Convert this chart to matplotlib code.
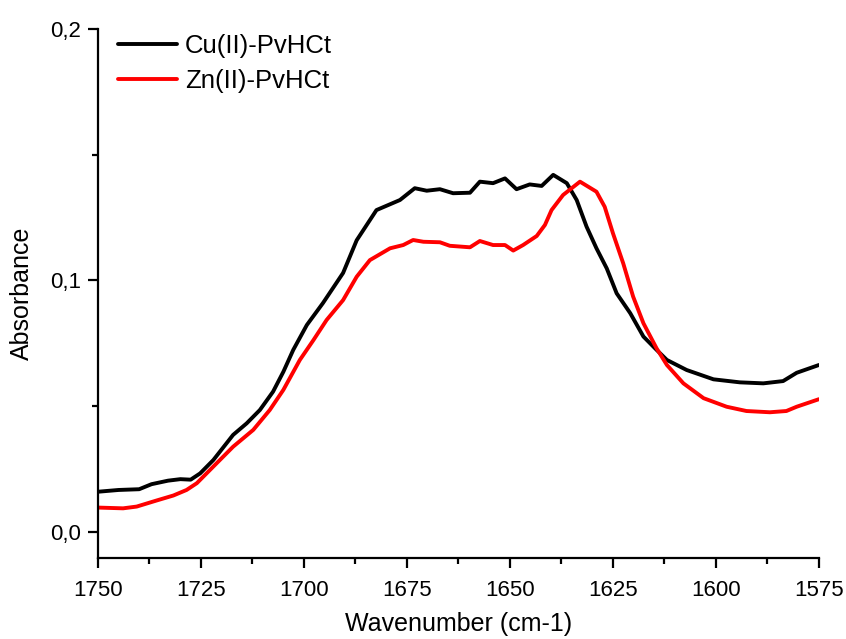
import numpy as np
import matplotlib
matplotlib.use('Agg')
import matplotlib.pyplot as plt
from matplotlib.ticker import MultipleLocator, FuncFormatter

plt.rcParams['font.family'] = ['Liberation Sans', 'DejaVu Sans']

# Cu(II)-PvHCt spectrum
cu_wn = [1750.0, 1745.0, 1740.0, 1737.0, 1733.0, 1730.0, 1727.5, 1725.2, 1722.0,
         1717.2, 1713.9, 1710.7, 1707.5, 1705.0, 1702.6, 1699.3, 1695.4, 1690.5,
         1687.2, 1682.4, 1676.7, 1673.1, 1670.2, 1667.0, 1663.8, 1659.7, 1657.3,
         1654.1, 1651.2, 1648.4, 1645.2, 1642.3, 1639.5, 1636.2, 1633.8, 1631.4,
         1629.0, 1626.5, 1624.1, 1620.8, 1617.6, 1614.4, 1611.9, 1607.1, 1600.6,
         1594.2, 1588.5, 1583.7, 1580.4, 1575.0]
cu_abs = [0.0160, 0.0167, 0.0170, 0.0190, 0.0204, 0.0210, 0.0208, 0.0233, 0.0286,
          0.0386, 0.0432, 0.0485, 0.0558, 0.0637, 0.0724, 0.0823, 0.0910, 0.1030,
          0.1160, 0.1280, 0.1320, 0.1367, 0.1357, 0.1363, 0.1347, 0.1349, 0.1393,
          0.1387, 0.1406, 0.1363, 0.1382, 0.1376, 0.1420, 0.1387, 0.1320, 0.1214,
          0.1128, 0.1048, 0.0949, 0.0870, 0.0777, 0.0724, 0.0684, 0.0644, 0.0607,
          0.0595, 0.0591, 0.0600, 0.0633, 0.0664]

# Zn(II)-PvHCt spectrum
zn_wn = [1750.0, 1743.9, 1740.6, 1735.8, 1731.7, 1728.5, 1726.0, 1722.0, 1717.2,
         1712.3, 1708.3, 1705.0, 1701.0, 1697.7, 1694.5, 1690.5, 1687.2, 1684.0,
         1679.1, 1675.9, 1673.5, 1671.0, 1667.0, 1664.6, 1659.7, 1657.3, 1654.1,
         1651.2, 1649.2, 1646.8, 1643.5, 1641.5, 1639.9, 1637.1, 1633.0, 1629.0,
         1627.0, 1625.0, 1622.5, 1620.1, 1617.6, 1614.4, 1611.9, 1607.9, 1603.0,
         1597.4, 1592.6, 1586.9, 1582.9, 1580.4, 1575.0]
zn_abs = [0.0097, 0.0094, 0.0101, 0.0125, 0.0145, 0.0167, 0.0194, 0.0260, 0.0339,
          0.0406, 0.0485, 0.0565, 0.0684, 0.0763, 0.0843, 0.0922, 0.1015, 0.1081,
          0.1128, 0.1141, 0.1161, 0.1154, 0.1152, 0.1138, 0.1132, 0.1157, 0.1141,
          0.1141, 0.1119, 0.1141, 0.1177, 0.1221, 0.1280, 0.1340, 0.1393, 0.1353,
          0.1293, 0.1188, 0.1068, 0.0936, 0.0830, 0.0730, 0.0664, 0.0591, 0.0532,
          0.0498, 0.0481, 0.0476, 0.0481, 0.0498, 0.0528]

fig = plt.figure(figsize=(8.46, 6.39), dpi=100)
ax = fig.add_axes([0.1158, 0.1268, 0.8522, 0.8278])

ax.plot(cu_wn, cu_abs, color='black', lw=2.8, solid_joinstyle='round',
        solid_capstyle='round', label='Cu(II)-PvHCt')
ax.plot(zn_wn, zn_abs, color='red', lw=2.8, solid_joinstyle='round',
        solid_capstyle='round', label='Zn(II)-PvHCt')

ax.set_xlim(1750, 1575)
ax.set_ylim(-0.01034, 0.2)

ax.spines['top'].set_visible(False)
ax.spines['right'].set_visible(False)
for s in ('left', 'bottom'):
    ax.spines[s].set_linewidth(1.6)

ax.xaxis.set_major_locator(MultipleLocator(25))
ax.xaxis.set_minor_locator(MultipleLocator(12.5))
ax.yaxis.set_major_locator(MultipleLocator(0.1))
ax.yaxis.set_minor_locator(MultipleLocator(0.05))
ax.yaxis.set_major_formatter(FuncFormatter(lambda v, p: f'{v:.1f}'.replace('.', ',')))

ax.tick_params(which='major', direction='out', length=7, width=1.6,
               labelsize=16)
ax.tick_params(axis='x', which='major', pad=8.5)
ax.tick_params(axis='y', which='major', pad=5)
ax.tick_params(which='minor', direction='out', length=4.5, width=1.6)

ax.set_xlabel('Wavenumber (cm-1)', fontsize=18, labelpad=8)
ax.set_ylabel('Absorbance', fontsize=18, labelpad=12)

ax.legend(loc='upper left', bbox_to_anchor=(0.028, 0.99), frameon=False,
          fontsize=18.5, handlelength=2.3, handletextpad=0.3,
          labelspacing=0.42, borderpad=0, borderaxespad=0)

fig.savefig('out.png', dpi=100)
